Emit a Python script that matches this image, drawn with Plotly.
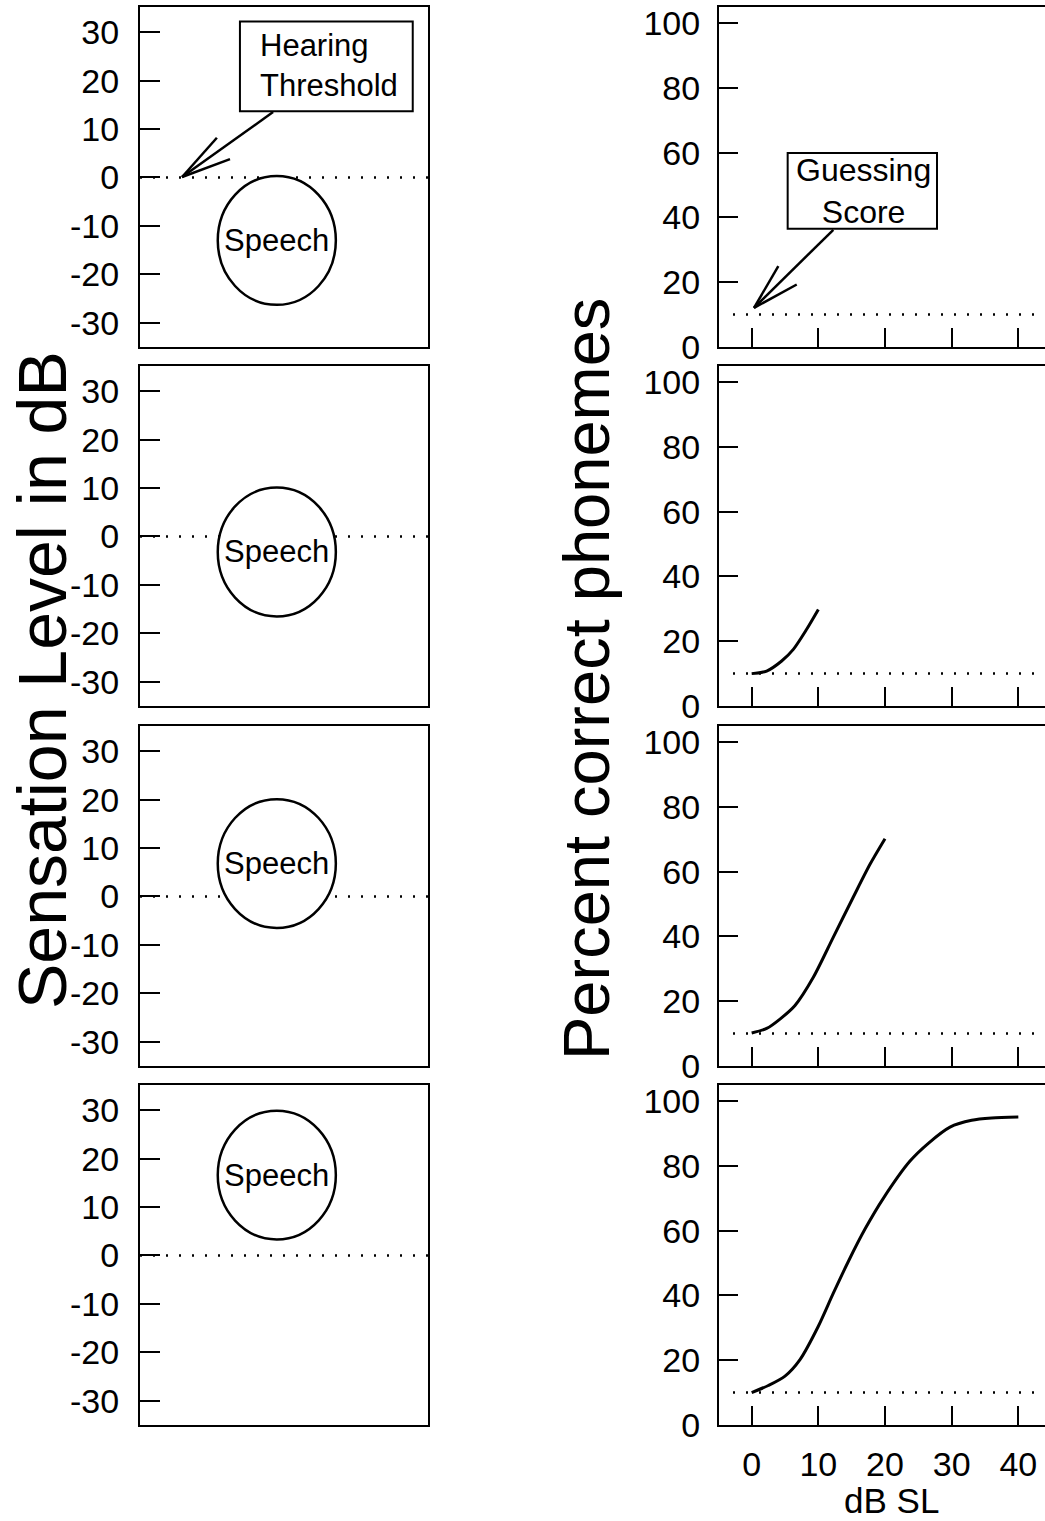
import plotly.graph_objects as go

# ---------------- data ----------------
# Left column: sensation level (dB) of the speech region in each row
speech_center = [-13.0, -3.2, 6.8, 16.6]
speech_half_range = 13.3
hearing_threshold = 0          # dB SL

# Right column: percent correct phonemes vs dB SL
guessing_score = 10            # percent

curve_row2_x = [0, 2.25, 4.5, 6.25, 8.25, 10]
curve_row2_y = [10, 10.8, 13.9, 17.5, 23.7, 29.8]

curve_row3_x = [0, 2.25, 4.25, 6.5, 9.25, 12.25, 15.25, 17.75, 20]
curve_row3_y = [10.2, 11.6, 14.5, 18.7, 27.4, 39.8, 52.2, 62.3, 70.2]

curve_row4_x = [0, 2.5, 5, 7.25, 10, 12.25, 14.5, 17, 19.75, 23.75, 26.5, 29.75, 33, 36, 40]
curve_row4_y = [10, 12.2, 15.1, 20.2, 30.5, 40.7, 50.5, 60.5, 70, 81.5, 87, 92, 94.1, 94.8, 95.1]

curves_x = [None, curve_row2_x, curve_row3_x, curve_row4_x]
curves_y = [None, curve_row2_y, curve_row3_y, curve_row4_y]

left_tick_vals = [-30, -20, -10, 0, 10, 20, 30]
left_tick_text = ["-30", "-20", "-10", "0", "10", "20", "30"]
right_y_ticks = [0, 20, 40, 60, 80, 100]
right_x_ticks = [0, 10, 20, 30, 40]
right_x_text = ["0", "10", "20", "30", "40"]

# ---------------- layout geometry ----------------
W, H = 1045, 1521
FONT = "Liberation Sans, Arial, Helvetica, sans-serif"
rows_px = [(7, 347), (366, 706), (726, 1066), (1085, 1425)]
left_dom = [140 / W, 428 / W]
right_dom = [719 / W, 1.0]

fig = go.Figure()
layout = dict(
    width=W, height=H, margin=dict(l=0, r=0, t=0, b=0, pad=0, autoexpand=False),
    paper_bgcolor="white", plot_bgcolor="white", showlegend=False,
    font=dict(family=FONT, color="black"),
)

def ydom(r):
    t, b = rows_px[r]
    return [1 - b / H, 1 - t / H]

shapes = []
annotations = []
TICKFONT = dict(size=34, family=FONT, color="black")

for r in range(4):
    li = r + 1          # left axis index
    ri = r + 5          # right axis index
    lx, ly = f"x{li}", f"y{li}"
    rx, ry = f"x{ri}", f"y{ri}"
    sfx_l = "" if li == 1 else str(li)
    sfx_r = str(ri)

    # ---- left axes ----
    layout[f"xaxis{sfx_l}"] = dict(
        domain=left_dom, anchor=ly, range=[0, 100], showticklabels=False,
        ticks="", showgrid=False, zeroline=False, showline=True, mirror=True,
        linecolor="black", linewidth=2, fixedrange=True, automargin=False)
    layout[f"yaxis{sfx_l}"] = dict(
        domain=ydom(r), anchor=lx, range=[-35, 35.2], tickvals=left_tick_vals,
        ticktext=left_tick_text, ticks="inside", ticklen=20, tickwidth=2,
        tickcolor="black", tickfont=TICKFONT, ticklabelstandoff=12,
        showgrid=False, zeroline=False, showline=True, mirror=True,
        linecolor="black", linewidth=2, fixedrange=True, automargin=False)

    # ---- right axes ----
    layout[f"xaxis{sfx_r}"] = dict(
        domain=right_dom, anchor=ry, range=[-4.9, 44], tickvals=right_x_ticks,
        ticktext=right_x_text, ticks="inside", ticklen=19, tickwidth=2,
        tickcolor="black", showticklabels=(r == 3), tickfont=TICKFONT,
        ticklabelstandoff=8,
        showgrid=False, zeroline=False, showline=True, mirror=True,
        linecolor="black", linewidth=2, fixedrange=True, automargin=False)
    layout[f"yaxis{sfx_r}"] = dict(
        domain=ydom(r), anchor=rx, range=[0, 105], tickvals=right_y_ticks,
        ticks="inside", ticklen=19, tickwidth=2, tickcolor="black",
        tickfont=TICKFONT, ticklabelstandoff=10,
        showgrid=False, zeroline=False, showline=True, mirror=True,
        linecolor="black", linewidth=2, fixedrange=True, automargin=False)

    # hearing threshold dotted line
    fig.add_trace(go.Scatter(
        x=[0, 100], y=[hearing_threshold, hearing_threshold], xaxis=lx, yaxis=ly,
        mode="lines", line=dict(color="black", width=2.5, dash="2px,11px"),
        hoverinfo="skip"))
    # guessing score dotted line
    fig.add_trace(go.Scatter(
        x=[-2.8, 44], y=[guessing_score, guessing_score], xaxis=rx, yaxis=ry,
        mode="lines", line=dict(color="black", width=2.5, dash="2px,11px"),
        hoverinfo="skip"))
    # performance curve
    if curves_x[r] is not None:
        fig.add_trace(go.Scatter(
            x=curves_x[r], y=curves_y[r], xaxis=rx, yaxis=ry, mode="lines",
            line=dict(color="black", width=3, shape="spline", smoothing=0.8),
            hoverinfo="skip"))

    # speech ellipse
    c = speech_center[r]
    shapes.append(dict(
        type="circle", xref=lx, yref=ly, x0=27, x1=68,
        y0=c - speech_half_range, y1=c + speech_half_range,
        line=dict(color="black", width=2.5), fillcolor="white", layer="above"))
    annotations.append(dict(
        text="Speech", xref=lx, yref=ly, x=47.5, y=c, showarrow=False,
        xanchor="center", yanchor="middle",
        font=dict(size=31, family=FONT, color="black")))

# ---- "Hearing Threshold" callout (row 1, left) ----
shapes.append(dict(type="rect", xref="x", yref="y", x0=34.7, x1=94.7, y0=13.7, y1=32.2,
                   line=dict(color="black", width=2), fillcolor="white", layer="above"))
annotations.append(dict(text="Hearing<br>Threshold", xref="x", yref="y", x=40.8, y=23.2,
                        showarrow=False, xanchor="left", yanchor="middle", align="left",
                        font=dict(size=31, family=FONT, color="black")))
for (x0, y0, x1, y1) in [(46.2, 13.5, 14.6, 0.1), (14.6, 0.1, 26.7, 8.2), (14.6, 0.1, 31.25, 3.8)]:
    shapes.append(dict(type="line", xref="x", yref="y", x0=x0, y0=y0, x1=x1, y1=y1,
                       line=dict(color="black", width=2.5), layer="above"))

# ---- "Guessing Score" callout (row 1, right) ----
shapes.append(dict(type="rect", xref="x5", yref="y5", x0=5.4, x1=27.8, y0=36.5, y1=59.9,
                   line=dict(color="black", width=2), fillcolor="white", layer="above"))
annotations.append(dict(text="Guessing<br>Score", xref="x5", yref="y5", x=16.7, y=48.2,
                        showarrow=False, xanchor="center", yanchor="middle", align="center",
                        font=dict(size=32, family=FONT, color="black")))
for (x0, y0, x1, y1) in [(12.25, 36.2, 0.35, 12.1), (0.35, 12.1, 4.0, 24.95), (0.35, 12.1, 6.76, 19.3)]:
    shapes.append(dict(type="line", xref="x5", yref="y5", x0=x0, y0=y0, x1=x1, y1=y1,
                       line=dict(color="black", width=2.5), layer="above"))

# ---- axis titles ----
annotations.append(dict(text="Sensation Level in dB", xref="paper", yref="paper",
                        x=42 / W, y=1 - 680 / H, textangle=-90, showarrow=False,
                        xanchor="center", yanchor="middle",
                        font=dict(size=68, family=FONT, color="black")))
annotations.append(dict(text="Percent correct phonemes", xref="paper", yref="paper",
                        x=586 / W, y=1 - 679 / H, textangle=-90, showarrow=False,
                        xanchor="center", yanchor="middle",
                        font=dict(size=65, family=FONT, color="black")))
annotations.append(dict(text="dB SL", xref="paper", yref="paper",
                        x=891 / W, y=1 - 1500 / H, showarrow=False,
                        xanchor="center", yanchor="middle",
                        font=dict(size=35, family=FONT, color="black")))

layout["shapes"] = shapes
layout["annotations"] = annotations
fig.update_layout(**layout)
fig.write_html("out.html")
